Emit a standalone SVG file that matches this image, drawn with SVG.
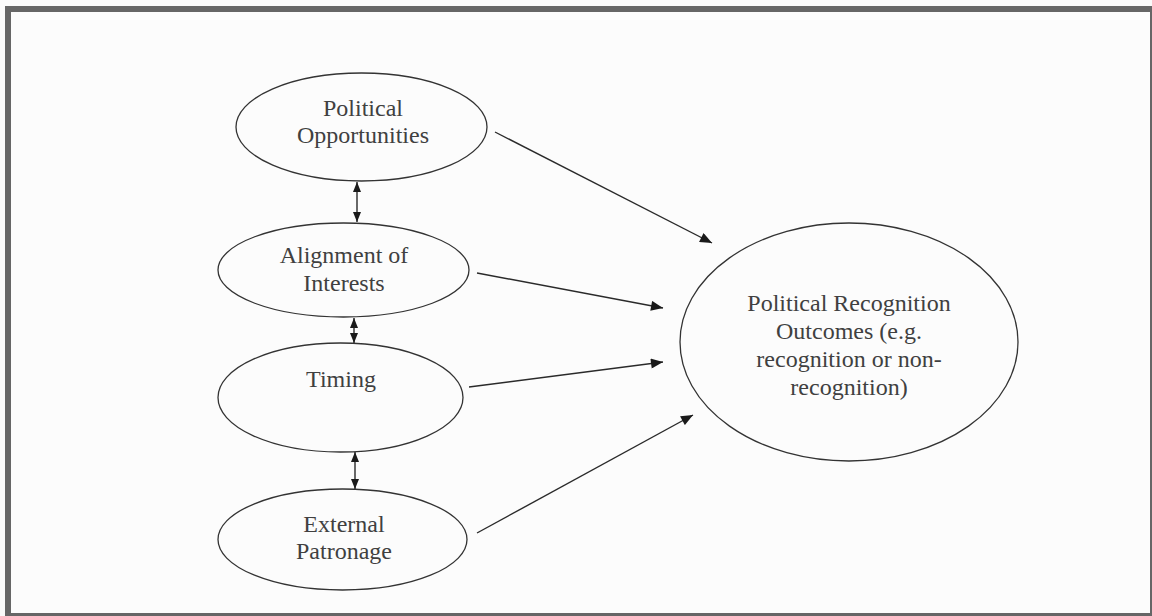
<svg xmlns="http://www.w3.org/2000/svg" width="1152" height="616" viewBox="0 0 1152 616">
<defs>
<style>
.node ellipse{fill:none;stroke:#333;stroke-width:1.3}
.node text{font-family:"Liberation Serif","Times New Roman",serif;font-size:24px;fill:#404040;text-anchor:middle}
.conn line{stroke:#2a2a2a;stroke-width:1.4}
</style>
<marker id="ah" viewBox="0 0 12 10" refX="12" refY="5" markerWidth="13" markerHeight="10" markerUnits="userSpaceOnUse" orient="auto-start-reverse">
<path d="M0,0 L12,5 L0,10 Z" fill="#1a1a1a"/>
</marker>
<marker id="ahs" viewBox="0 0 10 8" refX="10" refY="4" markerWidth="10" markerHeight="8" markerUnits="userSpaceOnUse" orient="auto-start-reverse">
<path d="M0,0 L10,4 L0,8 Z" fill="#1a1a1a"/>
</marker>
</defs>
<rect x="0" y="0" width="1152" height="616" fill="#fafafa"/>
<rect x="5" y="6" width="1147" height="610" fill="#666"/>
<rect x="11" y="12" width="1139" height="601" fill="#fcfcfc"/>

<g id="political-opportunities" class="node">
<ellipse cx="361.5" cy="127" rx="125.5" ry="54"/>
<text x="363" y="116">Political</text>
<text x="363" y="143">Opportunities</text>
</g>
<g id="alignment-of-interests" class="node">
<ellipse cx="343.5" cy="270" rx="125.5" ry="47"/>
<text x="344" y="263">Alignment of</text>
<text x="344" y="291">Interests</text>
</g>
<g id="timing" class="node">
<ellipse cx="340.5" cy="397.5" rx="122.5" ry="54.5"/>
<text x="341" y="387">Timing</text>
</g>
<g id="external-patronage" class="node">
<ellipse cx="342.5" cy="539.5" rx="124.5" ry="50.5"/>
<text x="344" y="532">External</text>
<text x="344" y="559">Patronage</text>
</g>
<g id="political-recognition-outcomes" class="node">
<ellipse cx="849" cy="342" rx="169" ry="119"/>
<text x="849" y="311">Political Recognition</text>
<text x="849" y="339">Outcomes (e.g.</text>
<text x="849" y="367">recognition or non-</text>
<text x="849" y="395">recognition)</text>
</g>

<g id="connectors" class="conn">
<line x1="495" y1="132" x2="712" y2="243" marker-end="url(#ah)"/>
<line x1="477" y1="273" x2="663" y2="308" marker-end="url(#ah)"/>
<line x1="469" y1="387" x2="663" y2="362" marker-end="url(#ah)"/>
<line x1="477" y1="533" x2="693" y2="415" marker-end="url(#ah)"/>
<line x1="357" y1="182" x2="357" y2="222" marker-start="url(#ahs)" marker-end="url(#ahs)"/>
<line x1="354" y1="318" x2="354" y2="343" marker-start="url(#ahs)" marker-end="url(#ahs)"/>
<line x1="355" y1="452" x2="355" y2="489" marker-start="url(#ahs)" marker-end="url(#ahs)"/>
</g>
</svg>
